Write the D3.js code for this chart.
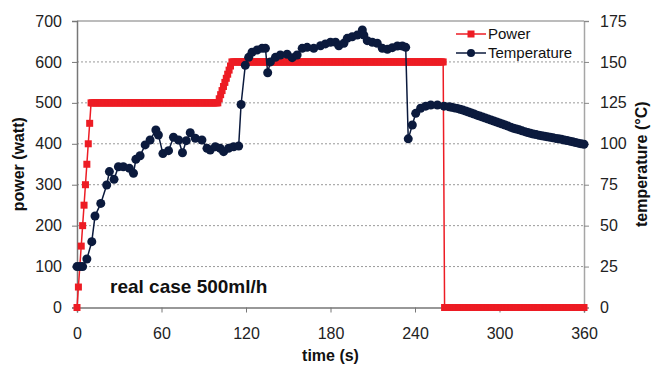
<!DOCTYPE html>
<html>
<head>
<meta charset="utf-8">
<script src="https://d3js.org/d3.v7.min.js"></script>
<style>
  body { margin: 0; background: #fff; }
  svg text { font-family: "Liberation Sans", Arial, sans-serif; fill: #111; }
</style>
</head>
<body>
<svg id="chart" width="651" height="367"></svg>
<script>

// power, one reading per second (index = time in s)
var powerWatt = [
  0,50,100,150,200,250,300,350,400,450,500,500,500,500,500,500,500,500,500,500,
  500,500,500,500,500,500,500,500,500,500,500,500,500,500,500,500,500,500,500,500,
  500,500,500,500,500,500,500,500,500,500,500,500,500,500,500,500,500,500,500,500,
  500,500,500,500,500,500,500,500,500,500,500,500,500,500,500,500,500,500,500,500,
  500,500,500,500,500,500,500,500,500,500,500,500,500,500,500,500,500,500,500,500,
  500,510,520,530,540,550,560,570,580,590,600,600,600,600,600,600,600,600,600,600,
  600,600,600,600,600,600,600,600,600,600,600,600,600,600,600,600,600,600,600,600,
  600,600,600,600,600,600,600,600,600,600,600,600,600,600,600,600,600,600,600,600,
  600,600,600,600,600,600,600,600,600,600,600,600,600,600,600,600,600,600,600,600,
  600,600,600,600,600,600,600,600,600,600,600,600,600,600,600,600,600,600,600,600,
  600,600,600,600,600,600,600,600,600,600,600,600,600,600,600,600,600,600,600,600,
  600,600,600,600,600,600,600,600,600,600,600,600,600,600,600,600,600,600,600,600,
  600,600,600,600,600,600,600,600,600,600,600,600,600,600,600,600,600,600,600,600,
  600,0,0,0,0,0,0,0,0,0,0,0,0,0,0,0,0,0,0,0,
  0,0,0,0,0,0,0,0,0,0,0,0,0,0,0,0,0,0,0,0,
  0,0,0,0,0,0,0,0,0,0,0,0,0,0,0,0,0,0,0,0,
  0,0,0,0,0,0,0,0,0,0,0,0,0,0,0,0,0,0,0,0,
  0,0,0,0,0,0,0,0,0,0,0,0,0,0,0,0,0,0,0,0,
  0
];

var tempTime = [
  0,2,4,7,10.5,12.8,16.9,21.1,23,26.3,
  29.4,32.9,37.2,40.1,41.8,44.8,48.4,51.9,56,57.8,
  61,65,68.5,72.1,74.9,77.6,80.4,84,88.7,92.3,
  94.6,98.2,101.7,104.1,107.6,111.2,114.8,116.5,119.5,121.9,
  124.3,127.9,131.4,133.8,135.4,137.3,140.9,144.4,149.2,152.8,
  156.3,159.9,163.4,168.1,172.9,176.4,180,183.6,185.9,189.5,
  191.9,195.4,199,202.6,203.7,206.1,209.7,213.2,216.8,220.4,
  223.9,227.5,231,233.4,235.2,238.1,240.5,244,247.6,251.2,
  255.9,260.6,264.2,266,268,270,272,274,276,278,
  280,282,284,286,288,290,292,294,296,298,
  300,302,304,306,308,310,312,314,316,318,
  320,322,324,326,328,330,332,334,336,338,
  340,342,344,346,348,350,352,354,356,358,
  360
];

var tempC = [
  25,25,25,29.6,40.2,55.9,63.6,74.8,83,78.3,
  86,86,85,82,90.5,92.7,99.3,102.3,108.4,105.4,
  94,95.8,104,102.3,94.5,101.9,106.8,103.4,102.3,97.2,
  96.2,98.2,97.2,95.2,97.2,98.2,98.6,124,148,152.8,
  155.9,157.3,158.3,158.3,143.4,150,152.8,154.2,154.7,152.6,
  154.2,158.3,158.9,158.3,159.9,161,162,162,159.9,161.4,
  164.4,165.4,166.4,169.5,166.4,163,162,161.4,158.3,157.7,
  158.7,159.7,159.7,158.9,103,111.5,118.6,121.7,123,123.7,
  123.7,123,122.6,122.3,121.9,121.6,121.1,120.6,120,119.4,
  118.8,118.2,117.5,116.9,116.3,115.7,115.1,114.5,113.9,113.3,
  112.7,112.1,111.5,110.8,110.1,109.5,109,108.5,107.9,107.4,
  106.9,106.4,106,105.6,105.2,104.9,104.6,104.3,104,103.7,
  103.3,103,102.7,102.3,102,101.6,101.2,100.8,100.4,100,
  99.7
];

var timeTicks = [0, 60, 120, 180, 240, 300, 360];
var powerTicks = [0, 100, 200, 300, 400, 500, 600, 700];
var tempTicks = [0, 25, 50, 75, 100, 125, 150, 175];

var red = '#ed1c24', navy = '#0b1a3d';

var svg = d3.select('#chart'),
    plotLeft = 77, plotRight = 584, plotTop = 21, plotBottom = 307.5;

var x = d3.scaleLinear().domain([0, 360]).range([plotLeft, plotRight]);
var y = d3.scaleLinear().domain([0, 700]).range([plotBottom, plotTop]);
var y2 = d3.scaleLinear().domain([0, 175]).range([plotBottom, plotTop]);

// dotted grid lines
svg.append('g').selectAll('line')
  .data(powerTicks.filter(function(d){ return d > 0 && d < 700; }))
  .enter().append('line')
    .attr('x1', plotLeft).attr('x2', plotRight)
    .attr('y1', function(d){ return y(d); }).attr('y2', function(d){ return y(d); })
    .style('stroke', '#999').style('stroke-width', 1).style('stroke-dasharray', '2,2');

// top border
svg.append('line').attr('x1', plotLeft).attr('x2', plotRight).attr('y1', plotTop).attr('y2', plotTop)
  .style('stroke', '#a6a6a6').style('stroke-width', 1.5);

var gx = svg.append('g').attr('transform', 'translate(0,' + plotBottom + ')')
  .call(d3.axisBottom(x).tickValues(timeTicks).tickSize(5).tickPadding(15));
var gy = svg.append('g').attr('transform', 'translate(' + plotLeft + ',0)')
  .call(d3.axisLeft(y).tickValues(powerTicks).tickSize(5).tickPadding(10));
var gy2 = svg.append('g').attr('transform', 'translate(' + plotRight + ',0)')
  .call(d3.axisRight(y2).tickValues(tempTicks).tickSize(5).tickPadding(11));

[gx, gy].forEach(function(g){
  g.select('.domain').style('stroke', '#777').style('stroke-width', 1.5);
  g.selectAll('.tick line').style('stroke', '#777');
});
gy2.select('.domain').style('stroke', '#a6a6a6').style('stroke-width', 1.5);
gy2.selectAll('.tick line').style('stroke', '#888');
svg.selectAll('.tick text').style('font-size', '16px').style('fill', '#222');

// power series
var powerLine = d3.line()
  .x(function(d, i){ return x(i); })
  .y(function(d){ return y(d); });

svg.append('path').datum(powerWatt)
  .attr('d', powerLine)
  .style('fill', 'none').style('stroke', red).style('stroke-width', 1.5);

svg.append('g').selectAll('rect')
  .data(powerWatt)
  .enter().append('rect')
    .attr('x', function(d, i){ return x(i) - 3.5; })
    .attr('y', function(d){ return y(d) - 3.5; })
    .attr('width', 7).attr('height', 7)
    .style('fill', red);

// temperature series
var tempLine = d3.line()
  .x(function(d){ return x(d[0]); })
  .y(function(d){ return y2(d[1]); });

var tempData = tempTime.map(function(t, i){ return [t, tempC[i]]; });

svg.append('path').datum(tempData)
  .attr('d', tempLine)
  .style('fill', 'none').style('stroke', navy).style('stroke-width', 1.5);

svg.append('g').selectAll('circle')
  .data(tempData)
  .enter().append('circle')
    .attr('cx', function(d){ return x(d[0]); })
    .attr('cy', function(d){ return y2(d[1]); })
    .attr('r', 4.5)
    .style('fill', navy);

// axis titles
svg.append('text')
  .attr('transform', 'translate(24,' + ((plotTop + plotBottom) / 2) + ') rotate(-90)')
  .attr('text-anchor', 'middle')
  .style('font-size', '16px').style('font-weight', 'bold')
  .text('power (watt)');

svg.append('text')
  .attr('transform', 'translate(647,' + ((plotTop + plotBottom) / 2) + ') rotate(-90)')
  .attr('text-anchor', 'middle')
  .style('font-size', '16px').style('font-weight', 'bold')
  .text('temperature (°C)');

svg.append('text')
  .attr('x', (plotLeft + plotRight) / 2).attr('y', 361)
  .attr('text-anchor', 'middle')
  .style('font-size', '16px').style('font-weight', 'bold')
  .text('time (s)');

svg.append('text')
  .attr('x', 110).attr('y', 293)
  .style('font-size', '19px').style('font-weight', 'bold')
  .text('real case 500ml/h');

// legend
var legend = svg.append('g').attr('transform', 'translate(456,34)');
legend.append('line').attr('x1', 0).attr('x2', 30).attr('y1', 0).attr('y2', 0)
  .style('stroke', red).style('stroke-width', 1.5);
legend.append('rect').attr('x', 11.5).attr('y', -3.5).attr('width', 7).attr('height', 7)
  .style('fill', red);
legend.append('text').attr('x', 32).attr('y', 0).attr('dy', '0.35em')
  .style('font-size', '15px').text('Power');

legend.append('line').attr('x1', 0).attr('x2', 30).attr('y1', 19).attr('y2', 19)
  .style('stroke', navy).style('stroke-width', 1.5);
legend.append('circle').attr('cx', 15).attr('cy', 19).attr('r', 4)
  .style('fill', navy);
legend.append('text').attr('x', 32).attr('y', 19).attr('dy', '0.35em')
  .style('font-size', '15px').text('Temperature');

</script>
</body>
</html>
